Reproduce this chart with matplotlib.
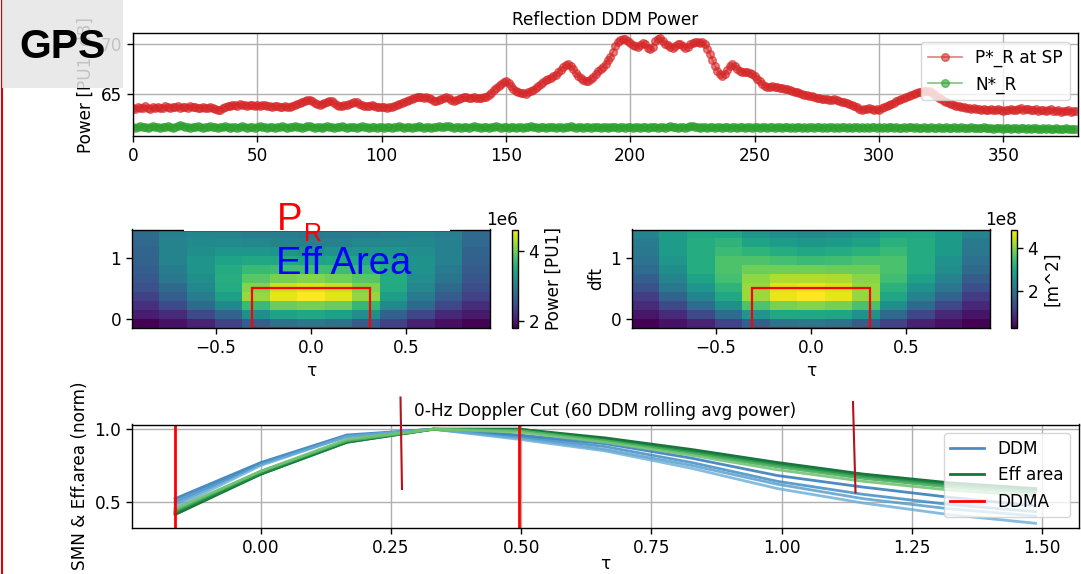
import numpy as np
import matplotlib.pyplot as plt
from matplotlib.patches import Rectangle
from matplotlib.lines import Line2D

# reflected power at the specular point, one value per DDM
p_r_sp = [
    63.6, 63.5, 63.7, 63.6, 63.6, 63.8, 63.6, 63.5, 63.7, 63.6, 63.7, 63.6, 63.6, 63.8, 63.7, 63.6, 63.7, 63.7, 63.8, 63.6,
    63.7, 63.7, 63.6, 63.8, 63.7, 63.7, 63.6, 63.6, 63.7, 63.6, 63.6, 63.7, 63.6, 63.5, 63.4, 63.4, 63.6, 63.7, 63.8, 63.8,
    63.9, 63.9, 63.8, 64.0, 63.9, 63.9, 63.8, 63.9, 63.9, 63.8, 63.9, 63.8, 63.9, 63.9, 63.8, 63.8, 63.7, 63.8, 63.8, 63.7,
    63.7, 63.8, 63.7, 63.7, 63.8, 63.9, 64.0, 64.1, 64.2, 64.3, 64.4, 64.4, 64.3, 64.1, 64.0, 63.9, 64.0, 64.1, 64.2, 64.3,
    64.3, 64.1, 63.9, 63.8, 63.8, 63.9, 63.9, 64.0, 64.1, 64.2, 64.2, 64.0, 63.9, 63.8, 63.8, 63.8, 63.9, 63.8, 63.7, 63.7,
    63.7, 63.7, 63.6, 63.7, 63.7, 63.8, 63.9, 64.0, 64.1, 64.2, 64.3, 64.4, 64.5, 64.6, 64.7, 64.7, 64.7, 64.6, 64.7, 64.6,
    64.5, 64.3, 64.3, 64.4, 64.5, 64.6, 64.7, 64.6, 64.4, 64.3, 64.4, 64.5, 64.6, 64.7, 64.7, 64.6, 64.6, 64.7, 64.6, 64.6,
    64.6, 64.7, 64.7, 64.9, 65.1, 65.4, 65.6, 65.8, 66.0, 66.2, 66.3, 66.1, 65.8, 65.5, 65.3, 65.2, 65.1, 65.1, 65.0, 65.2,
    65.3, 65.4, 65.6, 65.8, 66.0, 66.2, 66.4, 66.5, 66.6, 66.8, 66.9, 67.2, 67.4, 67.7, 67.9, 68.0, 67.8, 67.5, 67.1, 66.8,
    66.6, 66.4, 66.3, 66.3, 66.5, 66.7, 67.0, 67.3, 67.5, 67.7, 68.0, 68.4, 68.7, 69.2, 69.8, 70.2, 70.4, 70.5, 70.5, 70.3,
    70.1, 69.9, 69.8, 69.7, 69.9, 70.1, 70.0, 69.6, 69.5, 69.7, 70.3, 70.5, 70.6, 70.3, 70.0, 69.9, 69.7, 69.6, 69.8, 70.0,
    70.0, 69.8, 69.6, 69.7, 70.0, 70.1, 70.2, 70.2, 70.1, 70.2, 70.0, 69.5, 69.0, 68.4, 67.8, 67.3, 67.0, 66.8, 67.0, 67.4,
    67.8, 68.0, 67.8, 67.5, 67.3, 67.2, 67.2, 67.2, 67.1, 67.0, 66.8, 66.5, 66.3, 66.0, 65.8, 65.7, 65.7, 65.8, 65.7, 65.7,
    65.6, 65.6, 65.5, 65.5, 65.4, 65.3, 65.2, 65.2, 65.1, 65.0, 64.9, 64.9, 64.8, 64.8, 64.7, 64.6, 64.6, 64.5, 64.5, 64.5,
    64.4, 64.4, 64.5, 64.4, 64.3, 64.2, 64.2, 64.1, 64.0, 63.9, 63.8, 63.7, 63.5, 63.4, 63.5, 63.5, 63.6, 63.5, 63.4, 63.5,
    63.4, 63.6, 63.7, 63.8, 63.9, 64.0, 64.1, 64.3, 64.4, 64.5, 64.6, 64.7, 64.8, 64.9, 65.0, 65.1, 65.2, 65.2, 65.3, 65.3,
    65.3, 65.2, 65.0, 64.8, 64.6, 64.5, 64.3, 64.2, 64.1, 64.0, 63.9, 63.8, 63.8, 63.7, 63.7, 63.6, 63.6, 63.5, 63.6, 63.5,
    63.5, 63.4, 63.5, 63.4, 63.4, 63.5, 63.4, 63.4, 63.5, 63.4, 63.3, 63.4, 63.4, 63.5, 63.4, 63.4, 63.5, 63.6, 63.4, 63.5,
    63.5, 63.4, 63.4, 63.5, 63.3, 63.4, 63.4, 63.3, 63.4, 63.5, 63.3, 63.3, 63.4, 63.2, 63.3, 63.3, 63.4, 63.2, 63.3, 63.3,
]

# noise floor per DDM
n_r = [
    61.7, 61.6, 61.7, 61.8, 61.7, 61.7, 61.6, 61.7, 61.8, 61.7, 61.7, 61.6, 61.7, 61.7, 61.8, 61.7, 61.6, 61.7, 61.8, 61.9,
    61.8, 61.7, 61.7, 61.6, 61.7, 61.7, 61.8, 61.7, 61.6, 61.7, 61.7, 61.8, 61.7, 61.7, 61.6, 61.7, 61.7, 61.8, 61.7, 61.6,
    61.7, 61.7, 61.6, 61.7, 61.8, 61.7, 61.6, 61.7, 61.7, 61.6, 61.7, 61.8, 61.7, 61.7, 61.6, 61.7, 61.7, 61.6, 61.7, 61.7,
    61.8, 61.7, 61.6, 61.7, 61.7, 61.8, 61.7, 61.7, 61.6, 61.7, 61.8, 61.8, 61.7, 61.6, 61.7, 61.7, 61.6, 61.7, 61.8, 61.7,
    61.7, 61.6, 61.7, 61.7, 61.8, 61.7, 61.6, 61.7, 61.7, 61.7, 61.6, 61.7, 61.8, 61.7, 61.7, 61.6, 61.7, 61.7, 61.6, 61.7,
    61.7, 61.6, 61.7, 61.7, 61.6, 61.7, 61.7, 61.8, 61.7, 61.6, 61.7, 61.7, 61.6, 61.7, 61.7, 61.8, 61.7, 61.6, 61.7, 61.7,
    61.6, 61.7, 61.7, 61.8, 61.7, 61.7, 61.8, 61.8, 61.7, 61.6, 61.7, 61.7, 61.6, 61.7, 61.7, 61.6, 61.7, 61.8, 61.7, 61.7,
    61.6, 61.7, 61.7, 61.6, 61.7, 61.7, 61.8, 61.7, 61.6, 61.7, 61.7, 61.6, 61.7, 61.7, 61.6, 61.7, 61.7, 61.6, 61.7, 61.7,
    61.8, 61.7, 61.7, 61.6, 61.7, 61.7, 61.6, 61.7, 61.7, 61.7, 61.6, 61.7, 61.7, 61.6, 61.7, 61.7, 61.8, 61.7, 61.6, 61.7,
    61.7, 61.6, 61.7, 61.7, 61.6, 61.7, 61.7, 61.7, 61.6, 61.7, 61.7, 61.6, 61.7, 61.7, 61.7, 61.6, 61.7, 61.7, 61.6, 61.7,
    61.7, 61.6, 61.7, 61.7, 61.6, 61.7, 61.7, 61.6, 61.7, 61.7, 61.7, 61.6, 61.7, 61.7, 61.6, 61.7, 61.8, 61.7, 61.7, 61.6,
    61.7, 61.7, 61.6, 61.7, 61.8, 61.8, 61.7, 61.7, 61.6, 61.7, 61.7, 61.6, 61.7, 61.7, 61.6, 61.7, 61.7, 61.6, 61.7, 61.7,
    61.6, 61.7, 61.7, 61.6, 61.7, 61.7, 61.6, 61.7, 61.7, 61.6, 61.7, 61.7, 61.6, 61.7, 61.7, 61.6, 61.7, 61.7, 61.6, 61.7,
    61.7, 61.6, 61.7, 61.7, 61.6, 61.7, 61.6, 61.7, 61.7, 61.6, 61.7, 61.6, 61.7, 61.7, 61.6, 61.7, 61.7, 61.6, 61.7, 61.6,
    61.7, 61.7, 61.6, 61.7, 61.6, 61.7, 61.7, 61.6, 61.7, 61.6, 61.7, 61.7, 61.6, 61.7, 61.6, 61.7, 61.6, 61.7, 61.7, 61.6,
    61.7, 61.6, 61.7, 61.6, 61.7, 61.7, 61.6, 61.7, 61.6, 61.6, 61.7, 61.6, 61.7, 61.7, 61.6, 61.7, 61.6, 61.6, 61.7, 61.6,
    61.6, 61.7, 61.6, 61.6, 61.7, 61.6, 61.6, 61.7, 61.6, 61.6, 61.7, 61.6, 61.6, 61.7, 61.6, 61.6, 61.6, 61.7, 61.6, 61.6,
    61.6, 61.6, 61.7, 61.6, 61.6, 61.6, 61.5, 61.6, 61.6, 61.6, 61.5, 61.6, 61.6, 61.5, 61.6, 61.6, 61.5, 61.6, 61.6, 61.5,
    61.6, 61.5, 61.6, 61.6, 61.5, 61.5, 61.6, 61.5, 61.6, 61.5, 61.5, 61.6, 61.5, 61.5, 61.5, 61.6, 61.5, 61.5, 61.5, 61.5,
]

# DDM power (1e6 PU1) and effective area (1e8 m^2), rows = doppler bins from bottom
ddm_power = [
    [1.80, 1.94, 2.08, 2.36, 2.64, 2.86, 2.92, 2.86, 2.62, 2.34, 2.06, 1.92, 1.82],
    [2.02, 2.14, 2.42, 2.70, 3.20, 3.42, 3.48, 3.40, 3.18, 2.68, 2.40, 2.12, 2.00],
    [2.19, 2.42, 2.78, 3.12, 3.70, 3.98, 4.04, 3.96, 3.68, 3.10, 2.76, 2.40, 2.17],
    [2.36, 2.64, 2.98, 3.40, 4.18, 4.52, 4.62, 4.50, 4.16, 3.38, 2.96, 2.62, 2.34],
    [2.50, 2.78, 3.12, 3.54, 4.10, 4.40, 4.46, 4.38, 4.08, 3.52, 3.10, 2.76, 2.48],
    [2.58, 2.92, 3.20, 3.56, 3.90, 4.04, 4.10, 4.02, 3.88, 3.54, 3.18, 2.90, 2.56],
    [2.64, 2.98, 3.26, 3.54, 3.70, 3.76, 3.76, 3.74, 3.68, 3.52, 3.24, 2.96, 2.62],
    [2.70, 3.06, 3.26, 3.42, 3.48, 3.48, 3.42, 3.46, 3.46, 3.40, 3.24, 3.04, 2.68],
    [2.72, 3.06, 3.20, 3.28, 3.28, 3.26, 3.20, 3.24, 3.26, 3.26, 3.18, 3.04, 2.70],
    [2.78, 3.06, 3.14, 3.14, 3.12, 3.06, 3.03, 3.04, 3.10, 3.12, 3.12, 3.04, 2.76],
    [2.78, 3.03, 3.09, 3.06, 3.00, 2.98, 2.92, 2.96, 2.98, 3.04, 3.07, 3.01, 2.76],
]
eff_area = [
    [0.27, 0.50, 0.73, 1.19, 1.65, 2.02, 2.11, 2.00, 1.62, 1.16, 0.70, 0.48, 0.28],
    [0.55, 0.82, 1.28, 1.88, 2.66, 3.03, 3.03, 3.00, 2.62, 1.85, 1.25, 0.80, 0.53],
    [0.82, 1.28, 1.88, 2.57, 3.58, 3.95, 4.04, 3.92, 3.55, 2.54, 1.85, 1.26, 0.80],
    [1.10, 1.74, 2.34, 3.03, 4.18, 4.73, 4.87, 4.70, 4.15, 3.00, 2.31, 1.72, 1.08],
    [1.42, 2.11, 2.66, 3.26, 4.18, 4.64, 4.73, 4.60, 4.15, 3.23, 2.63, 2.08, 1.40],
    [1.65, 2.34, 2.94, 3.49, 4.09, 4.32, 4.32, 4.30, 4.06, 3.46, 2.91, 2.31, 1.62],
    [1.88, 2.57, 3.12, 3.58, 3.86, 3.86, 3.86, 3.84, 3.83, 3.55, 3.10, 2.54, 1.86],
    [2.02, 2.66, 3.12, 3.58, 3.58, 3.49, 3.40, 3.46, 3.55, 3.55, 3.10, 2.63, 2.00],
    [2.11, 2.80, 3.12, 3.40, 3.26, 3.12, 3.03, 3.10, 3.23, 3.38, 3.10, 2.77, 2.09],
    [2.20, 2.80, 3.12, 3.26, 2.94, 2.80, 2.71, 2.78, 2.91, 3.23, 3.10, 2.77, 2.18],
    [2.34, 2.80, 3.03, 3.03, 2.71, 2.57, 2.48, 2.55, 2.68, 3.00, 3.01, 2.77, 2.32],
]
tau_edges = (-0.9425, 0.9425)
dft_edges = (-0.145, 1.455)
ddma_tau = (-0.313, 0.313)
ddma_dft = (-0.145, 0.51)

# 0-Hz doppler cut, normalised
tau_cut = [-0.165, 0.0, 0.165, 0.331, 0.496, 0.661, 0.827, 0.992, 1.157, 1.322, 1.488]
ddm_cuts = [
    [0.52, 0.77, 0.96, 1.00, 0.96, 0.90, 0.80, 0.68, 0.60, 0.53, 0.47],
    [0.50, 0.76, 0.95, 1.00, 0.95, 0.88, 0.77, 0.64, 0.55, 0.48, 0.43],
    [0.48, 0.76, 0.95, 1.00, 0.94, 0.86, 0.75, 0.62, 0.52, 0.45, 0.40],
    [0.46, 0.75, 0.95, 1.00, 0.93, 0.85, 0.73, 0.59, 0.49, 0.41, 0.35],
]
eff_cuts = [
    [0.41, 0.69, 0.91, 1.00, 1.00, 0.94, 0.86, 0.77, 0.69, 0.63, 0.59],
    [0.42, 0.69, 0.91, 1.00, 1.00, 0.93, 0.85, 0.76, 0.68, 0.62, 0.58],
    [0.43, 0.70, 0.92, 1.00, 0.99, 0.92, 0.84, 0.75, 0.67, 0.61, 0.57],
    [0.44, 0.71, 0.92, 1.00, 0.99, 0.92, 0.83, 0.74, 0.66, 0.60, 0.56],
    [0.45, 0.71, 0.93, 1.00, 0.98, 0.91, 0.82, 0.72, 0.64, 0.58, 0.54],
]
ddma_bounds = [-0.165, 0.496]

FS = 12.2
plt.rcParams.update({
    'font.size': FS,
    'axes.linewidth': 1.0,
    'grid.linewidth': 1.0,
    'xtick.major.width': 1.0,
    'ytick.major.width': 1.0,
    'xtick.major.size': 4.3,
    'ytick.major.size': 4.3,
})

W, H = 1081, 574
fig = plt.figure(figsize=(W / 100, H / 100), dpi=100)


def box(x0, y0, x1, y1):
    # pixel box (top-left origin) -> figure fraction rect
    return [x0 / W, 1 - y1 / H, (x1 - x0) / W, (y1 - y0) / H]


# --- reflection power time series
ax1 = fig.add_axes(box(133, 33.3, 1078, 136))
idx = np.arange(len(p_r_sp))
ax1.plot(idx, p_r_sp, 'o-', color='tab:red', alpha=0.6, ms=5.5, lw=1.2, label='P*_R at SP')
ax1.plot(idx, n_r, 'o-', color='tab:green', alpha=0.6, ms=5.5, lw=1.2, label='N*_R')
ax1.set_xlim(0, 380)
ax1.set_ylim(60.75, 71.05)
ax1.set_yticks([65, 70])
ax1.grid(True)
ax1.set_title('Reflection DDM Power', fontsize=FS)
ax1.set_ylabel('Power [PU1, dB]')
ax1.legend(loc='upper right')

# --- DDM power / effective area maps
ext = [tau_edges[0], tau_edges[1], dft_edges[0], dft_edges[1]]
ax2 = fig.add_axes(box(132, 229.5, 490, 328))
im2 = ax2.imshow(np.array(ddm_power) * 1e6, origin='lower', aspect='auto', extent=ext, cmap='viridis')
ax2.set_xticks([-0.5, 0.0, 0.5])
ax2.set_yticks([0, 1])
ax2.set_xlabel('τ')
cax2 = fig.add_axes(box(511.5, 229.5, 517.5, 328))
cb2 = fig.colorbar(im2, cax=cax2, ticks=[2e6, 4e6])
cb2.set_label('Power [PU1]')

ax3 = fig.add_axes(box(632, 229.5, 990, 328))
im3 = ax3.imshow(np.array(eff_area) * 1e8, origin='lower', aspect='auto', extent=ext, cmap='viridis')
ax3.set_xticks([-0.5, 0.0, 0.5])
ax3.set_yticks([0, 1])
ax3.set_xlabel('τ')
ax3.set_ylabel('dft')
cax3 = fig.add_axes(box(1010.5, 229.5, 1016.5, 328))
cb3 = fig.colorbar(im3, cax=cax3, ticks=[2e8, 4e8])
cb3.set_label('[m^2]')

for ax in (ax2, ax3):
    ax.add_patch(Rectangle((ddma_tau[0], ddma_dft[0]), ddma_tau[1] - ddma_tau[0],
                           ddma_dft[1] - ddma_dft[0], fill=False, ec='red', lw=1.6))

# --- doppler cut
ax4 = fig.add_axes(box(132, 424.5, 1078.6, 528))
blues = plt.cm.Blues
greens = plt.cm.Greens
for i, c in enumerate(ddm_cuts):
    ax4.plot(tau_cut, c, color=blues(0.75 - 0.08 * i), alpha=0.8, lw=2,
             label='DDM' if i == 0 else None)
for i, c in enumerate(eff_cuts):
    ax4.plot(tau_cut, c, color=greens(0.9 - 0.1 * i), alpha=0.9, lw=2,
             label='Eff area' if i == 0 else None)
for j, b in enumerate(ddma_bounds):
    ax4.axvline(b, color='red', lw=2, label='DDMA' if j == 0 else None)
ax4.set_yticks([0.5, 1.0])
ax4.grid(True)
ax4.set_title('0-Hz Doppler Cut (60 DDM rolling avg power)', fontsize=FS)
ax4.set_xlabel('τ', labelpad=-1)
ax4.set_ylabel('SMN & Eff.area (norm)')
ax4.legend(loc='upper right')

# --- slide annotations
fig.patches.append(Rectangle((184 / W, 1 - 230.5 / H), (450 - 184) / W, 36 / H,
                             transform=fig.transFigure, fc='white', ec='none', zorder=5))
fig.text(277 / W, 1 - 229.6 / H, 'P', color='#ff0000', fontsize=27.5,
         family='Liberation Sans', va='baseline', zorder=6)
fig.text(304 / W, 1 - 241 / H, 'R', color='#ff0000', fontsize=18,
         family='Liberation Sans', va='baseline', zorder=6)
fig.text(276 / W, 1 - 274.5 / H, 'Eff Area', color='#0000ff', fontsize=27.5,
         family='Liberation Sans', va='baseline', zorder=6)

fig.patches.append(Rectangle((2 / W, 1 - 88 / H), 121 / W, 88 / H,
                             transform=fig.transFigure, fc='#e6e6e6', ec='none', alpha=0.85, zorder=5))
fig.text(19 / W, 1 - 58 / H, 'GPS', color='black', fontsize=29.5, fontweight='bold',
         family='Liberation Sans', va='baseline', zorder=6)

fig.lines.append(Line2D([1.5 / W, 1.5 / W], [0, 1], transform=fig.transFigure, color='#e00000', lw=1.5))
fig.lines.append(Line2D([400.5 / W, 402 / W], [1 - 397.5 / H, 1 - 489 / H], transform=fig.transFigure,
                        color='#b5121b', lw=1.5, zorder=6))
fig.lines.append(Line2D([853 / W, 855.5 / W], [1 - 402 / H, 1 - 492.5 / H], transform=fig.transFigure,
                        color='#b5121b', lw=1.5, zorder=6))

fig.savefig('out.png', dpi=100)
